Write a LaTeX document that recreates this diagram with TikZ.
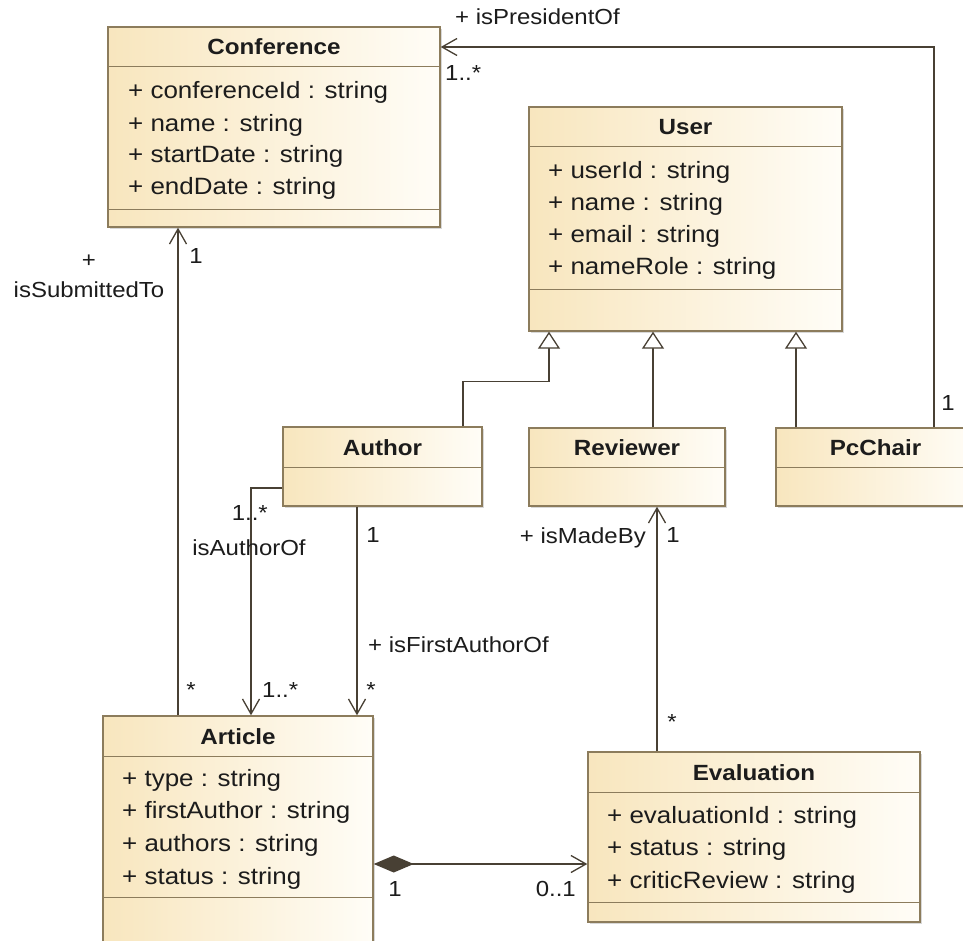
\documentclass[tikz,border=0pt]{standalone}
\usepackage{fontspec}
\setmainfont{Liberation Sans}[FakeStretch=1.1]
\usetikzlibrary{arrows.meta,shadows}
\definecolor{tanL}{RGB}{248,230,190}
\definecolor{tanR}{RGB}{255,253,247}
\definecolor{bord}{RGB}{140,124,92}
\definecolor{lnc}{RGB}{72,64,52}
\definecolor{txt}{RGB}{28,28,28}
\tikzset{
  cls/.style={draw=bord, line width=1.4pt, left color=tanL, right color=tanR,
    rectangle, inner sep=0pt,
    drop shadow={shadow xshift=2pt, shadow yshift=-2pt, opacity=0.25, fill=black!60}},
  sep/.style={draw=bord, line width=1.3pt},
  ttl/.style={font=\fontsize{22}{26}\selectfont\bfseries, text=txt, inner sep=0pt},
  attr/.style={font=\fontsize{23.6}{28}\selectfont, text=txt, anchor=west, inner sep=0pt},
  lbl/.style={font=\fontsize{21.8}{30}\selectfont, text=txt, inner sep=0pt},
  assoc/.style={draw=lnc, line width=1.3pt, -{Straight Barb[length=15pt,width=17pt,line width=1.3pt]}},
  gen/.style={draw=lnc, line width=1.3pt, -{Triangle[open,length=17pt,width=22pt,fill=white,line width=1.3pt]}},
  comp/.style={draw=lnc, line width=1.3pt, {Diamond[length=40pt,width=17pt,fill=lnc]}-{Straight Barb[length=15pt,width=17pt,line width=1.3pt]}}
}
\begin{document}
\begin{tikzpicture}[x=1pt,y=-1pt]
\useasboundingbox (0,0) rectangle (963,941);
\clip (0,0) rectangle (963,941);
\fill[white] (0,0) rectangle (963,941);

% ---------- Conference ----------
\node[cls, minimum width=332pt, minimum height=200pt] (conf) at (274,127) {};
\draw[sep] ([yshift=-40pt]conf.north west) -- ([yshift=-40pt]conf.north east);
\draw[sep] ([yshift=-183pt]conf.north west) -- ([yshift=-183pt]conf.north east);
\node[ttl] (conft) at (274,47) {Conference};
\node[attr] (confa1) at (128,92) {+ conferenceId : string};
\node[attr] (confa2) at (128,125) {+ name : string};
\node[attr] (confa3) at (128,156) {+ startDate : string};
\node[attr] (confa4) at (128,188) {+ endDate : string};

% ---------- User ----------
\node[cls, minimum width=313pt, minimum height=224pt] (user) at (685.5,219) {};
\draw[sep] ([yshift=-40pt]user.north west) -- ([yshift=-40pt]user.north east);
\draw[sep] ([yshift=-183pt]user.north west) -- ([yshift=-183pt]user.north east);
\node[ttl] (usert) at (685.5,127) {User};
\node[attr] (usera1) at (548,172) {+ userId : string};
\node[attr] (usera2) at (548,204) {+ name : string};
\node[attr] (usera3) at (548,236) {+ email : string};
\node[attr] (usera4) at (548,268) {+ nameRole : string};

% ---------- Author ----------
\node[cls, minimum width=199pt, minimum height=79pt] (author) at (382.5,466.5) {};
\draw[sep] ([yshift=-41pt]author.north west) -- ([yshift=-41pt]author.north east);
\node[ttl] (authort) at (382.5,448) {Author};

% ---------- Reviewer ----------
\node[cls, minimum width=196pt, minimum height=78pt] (rev) at (627,467) {};
\draw[sep] ([yshift=-40pt]rev.north west) -- ([yshift=-40pt]rev.north east);
\node[ttl] (revt) at (627,448) {Reviewer};

% ---------- PcChair ----------
\node[cls, minimum width=199pt, minimum height=78pt] (pc) at (875.5,467) {};
\draw[sep] ([yshift=-40pt]pc.north west) -- ([yshift=-40pt]pc.north east);
\node[ttl] (pct) at (875.5,448) {PcChair};

% ---------- Article ----------
\node[cls, minimum width=270pt, minimum height=244pt] (art) at (238,838) {};
\draw[sep] ([yshift=-41pt]art.north west) -- ([yshift=-41pt]art.north east);
\draw[sep] ([yshift=-182pt]art.north west) -- ([yshift=-182pt]art.north east);
\node[ttl] (artt) at (238,737) {Article};
\node[attr] (arta1) at (122,780) {+ type : string};
\node[attr] (arta2) at (122,812) {+ firstAuthor : string};
\node[attr] (arta3) at (122,845) {+ authors : string};
\node[attr] (arta4) at (122,878) {+ status : string};

% ---------- Evaluation ----------
\node[cls, minimum width=332pt, minimum height=170pt] (eval) at (754,837) {};
\draw[sep] ([yshift=-41pt]eval.north west) -- ([yshift=-41pt]eval.north east);
\draw[sep] ([yshift=-151pt]eval.north west) -- ([yshift=-151pt]eval.north east);
\node[ttl] (evalt) at (754,773) {Evaluation};
\node[attr] (evala1) at (607,817) {+ evaluationId : string};
\node[attr] (evala2) at (607,849) {+ status : string};
\node[attr] (evala3) at (607,882) {+ criticReview : string};

% ---------- Generalizations ----------
\draw[gen] ([xshift=80.5pt]author.north) -- ++(0,-45) -| ([xshift=-136.5pt]user.south);
\draw[gen] ([xshift=26pt]rev.north) -- ([xshift=26pt]rev.north |- user.south);
\draw[gen] ([xshift=-79.5pt]pc.north) -- ([xshift=-79.5pt]pc.north |- user.south);

% ---------- Associations ----------
\draw[assoc] ([xshift=58.5pt]pc.north) |- (conf.east |- conft);
\node[lbl, anchor=west] (lpres) at (455,17) {+ isPresidentOf};
\node[lbl, anchor=west] (lpres1) at (445,73) {1..*};
\node[lbl] (lpres2) at (948,403) {1};

\draw[assoc] ([xshift=-60pt]art.north) -- ([xshift=-60pt]art.north |- conf.south);
\node[lbl] (lsub1) at (196,256) {1};
\node[lbl, align=center] (lsub) at (89,276) {+\\isSubmittedTo};
\node[lbl] (lsub2) at (191,690) {*};

\draw[assoc] ([yshift=-21.5pt]author.west) -| ([xshift=13pt]art.north);
\node[lbl, anchor=east] (lauth1) at (268,513) {1..*};
\node[lbl] (lauth) at (249,548) {isAuthorOf};
\node[lbl, anchor=west] (lauth2) at (262,690) {1..*};

\draw[assoc] ([xshift=-25.5pt]author.south) -- ([xshift=-25.5pt]author.south |- art.north);
\node[lbl] (lfirst1) at (373,535) {1};
\node[lbl, anchor=west] (lfirst) at (368,645) {+ isFirstAuthorOf};
\node[lbl] (lfirst2) at (371,690) {*};

\draw[assoc] ([xshift=-97pt]eval.north) -- ([xshift=-97pt]eval.north |- rev.south);
\node[lbl, anchor=east] (lmade) at (646,538) {+ isMadeBy};
\node[lbl] (lmade1) at (673,535) {1};
\node[lbl] (lmade2) at (672,722) {*};

% ---------- Composition ----------
\coordinate (c1) at ([yshift=-26pt]art.east);
\draw[comp] (c1) -- (c1 -| eval.west);
\node[lbl] (lcomp1) at (395,889) {1};
\node[lbl, anchor=east] (lcomp2) at (576,889) {0..1};
\end{tikzpicture}
\end{document}
